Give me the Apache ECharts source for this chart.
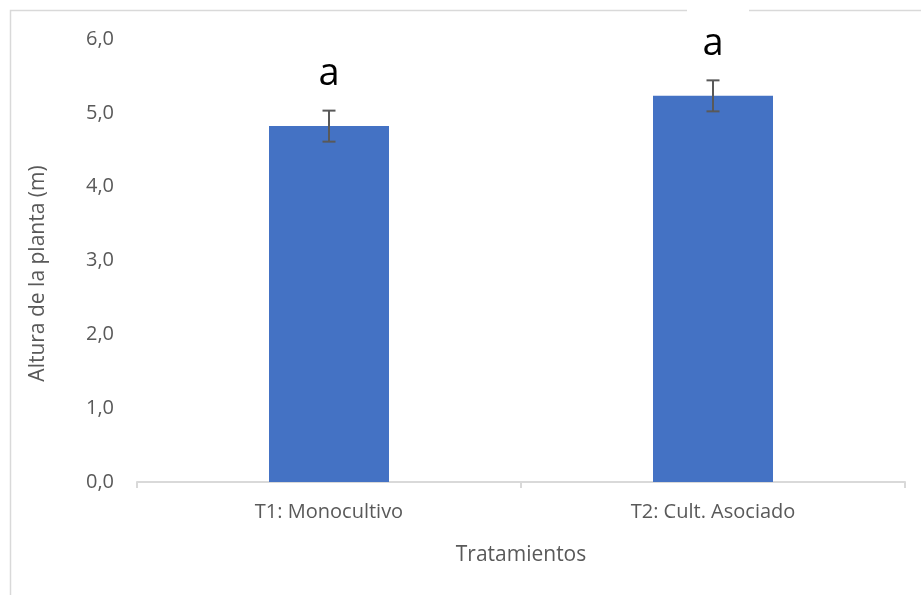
<!DOCTYPE html>
<html>
<head>
<meta charset="utf-8">
<script src="https://cdn.jsdelivr.net/npm/echarts@6/dist/echarts.min.js"></script>
<style>
  html, body { margin: 0; padding: 0; background: #ffffff; }
  #chart { width: 921px; height: 595px; }
</style>
</head>
<body>
<div id="chart"></div>
<script>
// Plant height by treatment, with standard error and significance letters
const categories = ['T1: Monocultivo', 'T2: Cult. Asociado'];
const heights = [4.82, 5.23];
const errors = [0.21, 0.21];
const letters = ['a', 'a'];
const yTicks = { min: 0, max: 6, interval: 1 };

const FONT = 'Open Sans';
const GRAY = '#595959';

const errorData = categories.map((c, i) => [i, heights[i], errors[i], letters[i]]);

const chart = echarts.init(document.getElementById('chart'), null, { renderer: 'canvas' });

chart.setOption({
  animation: false,
  backgroundColor: '#ffffff',
  textStyle: { fontFamily: FONT },
  graphic: [
    {
      type: 'rect',
      z: -10,
      shape: { x: 10.5, y: 10.5, width: 1000, height: 1000 },
      style: { fill: 'none', stroke: '#d9d9d9', lineWidth: 1.5 }
    },
    {
      type: 'rect',
      z: -9,
      shape: { x: 687, y: 8, width: 62, height: 5 },
      style: { fill: '#ffffff' }
    }
  ],
  grid: { left: 137, right: 16, top: 39, bottom: 113 },
  xAxis: {
    type: 'category',
    data: categories,
    name: 'Tratamientos',
    nameLocation: 'middle',
    nameGap: 63,
    nameTextStyle: { color: GRAY, fontSize: 21, fontFamily: FONT },
    axisLine: { show: true, lineStyle: { color: '#d9d9d9', width: 2 } },
    axisTick: { show: true, length: 6, lineStyle: { color: '#d9d9d9', width: 2 } },
    axisLabel: { color: GRAY, fontSize: 20, fontFamily: FONT, margin: 20 },
    splitLine: { show: false }
  },
  yAxis: {
    type: 'value',
    min: yTicks.min,
    max: yTicks.max,
    interval: yTicks.interval,
    name: 'Altura de la planta (m)',
    nameLocation: 'middle',
    nameGap: 88,
    nameTextStyle: { color: GRAY, fontSize: 21, fontFamily: FONT, padding: [0, 26, 0, 0] },
    axisLine: { show: false },
    axisTick: { show: false },
    splitLine: { show: false },
    axisLabel: {
      color: GRAY,
      fontSize: 20,
      fontFamily: FONT,
      margin: 23,
      formatter: v => v.toFixed(1).replace('.', ',')
    }
  },
  series: [
    {
      type: 'bar',
      data: heights,
      barWidth: 120,
      itemStyle: { color: '#4472c4' },
      z: 2
    },
    {
      type: 'custom',
      data: errorData,
      z: 5,
      encode: { x: 0, y: 1 },
      renderItem: function (params, api) {
        const idx = api.value(0);
        const v = api.value(1);
        const e = api.value(2);
        const top = api.coord([idx, v + e]);
        const bot = api.coord([idx, v - e]);
        const cap = 6.5;
        const lineStyle = { stroke: GRAY, lineWidth: 2 };
        return {
          type: 'group',
          children: [
            { type: 'line', shape: { x1: top[0], y1: top[1], x2: bot[0], y2: bot[1] }, style: lineStyle },
            { type: 'line', shape: { x1: top[0] - cap, y1: top[1], x2: top[0] + cap, y2: top[1] }, style: lineStyle },
            { type: 'line', shape: { x1: bot[0] - cap, y1: bot[1], x2: bot[0] + cap, y2: bot[1] }, style: lineStyle },
            {
              type: 'text',
              x: top[0],
              y: top[1] - 36,
              style: {
                text: errorData[params.dataIndex][3],
                fill: '#000000',
                fontSize: 38,
                fontFamily: FONT,
                align: 'center',
                verticalAlign: 'middle'
              }
            }
          ]
        };
      }
    }
  ]
});
</script>
</body>
</html>
